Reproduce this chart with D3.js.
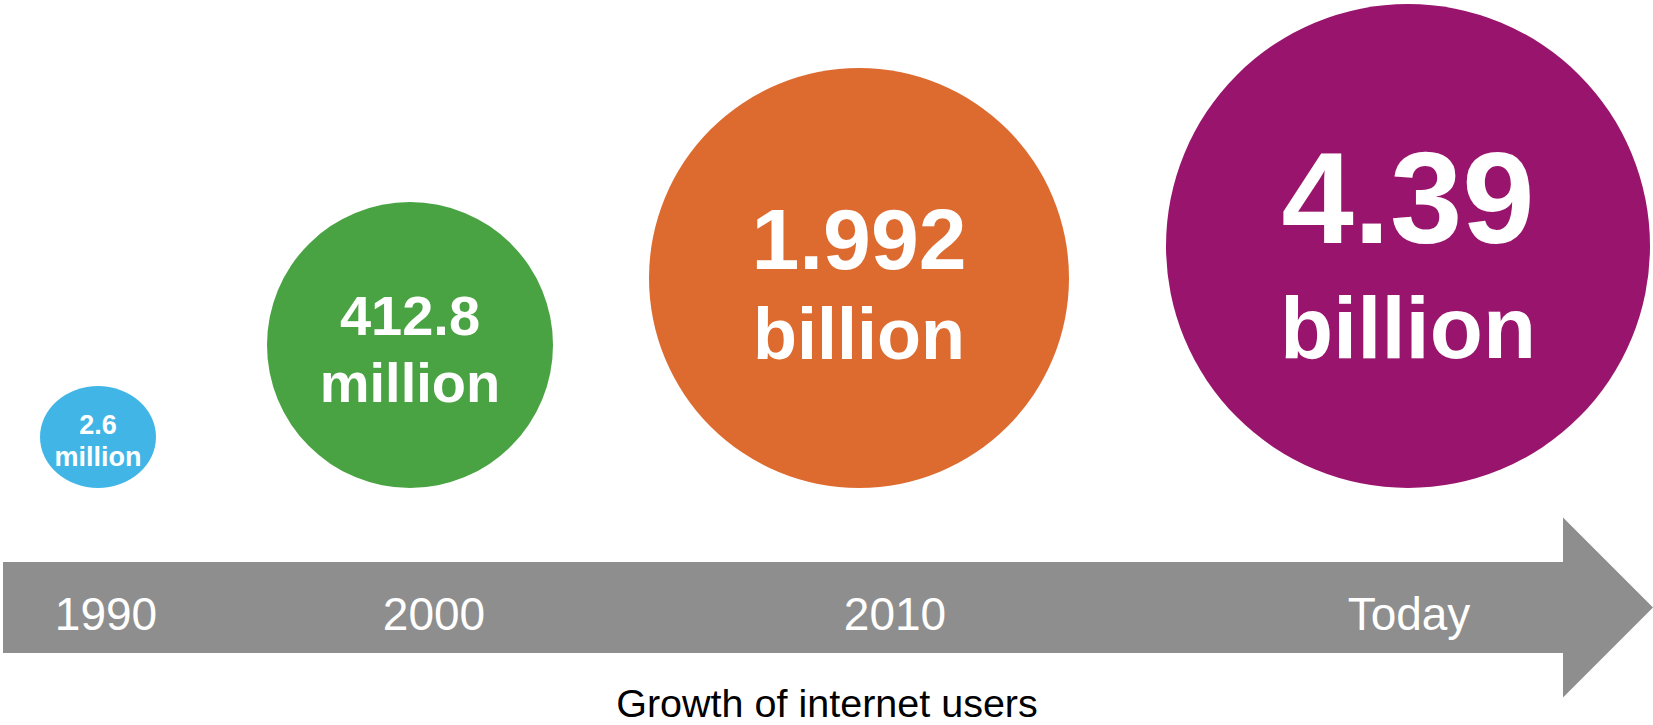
<!DOCTYPE html>
<html>
<head>
<meta charset="utf-8">
<script src="https://cdn.jsdelivr.net/npm/d3@7"></script>
<style>
  html, body { margin: 0; padding: 0; background: #fff; }
  svg { display: block; font-family: "Liberation Sans", Arial, sans-serif; }
</style>
</head>
<body>
<div id="container"></div>
<script>
const periods = ["1990", "2000", "2010", "Today"];
const userCounts = ["2.6", "412.8", "1.992", "4.39"];
const userUnits = ["million", "million", "billion", "billion"];
const caption = "Growth of internet users";

const width = 1653;
const height = 725;

const svg = d3.select("#container")
  .append("svg")
  .attr("width", width)
  .attr("height", height);

// layout scales, one entry per period
const cx = d3.scaleOrdinal().domain(periods).range([98, 410, 859, 1408]);
const labelX = d3.scaleOrdinal().domain(periods).range([106, 434, 895, 1409]);
const rx = d3.scaleOrdinal().domain(periods).range([58, 143, 210, 242]);
const ry = d3.scaleOrdinal().domain(periods).range([51, 143, 210, 242]);
const color = d3.scaleOrdinal().domain(periods)
  .range(["#41b6e6", "#4aa343", "#dd6b30", "#99146c"]);
const numSize = d3.scaleOrdinal().domain(periods).range([27, 56, 86, 130]);
const unitSize = d3.scaleOrdinal().domain(periods).range([27, 56, 72, 87]);
const numDy = d3.scaleOrdinal().domain(periods).range([-3, -10, -9, -3]);
const unitDy = d3.scaleOrdinal().domain(periods).range([29, 57, 81, 112]);

const groundY = 488;
const cy = p => groundY - ry(p);

const data = periods.map((p, i) => ({
  period: p,
  count: userCounts[i],
  unit: userUnits[i]
}));

// arrow
const body = { x0: 3, x1: 1563, y0: 562, y1: 653 };
const mid = (body.y0 + body.y1) / 2;
const head = 90;
const arrowPts = [
  [body.x0, body.y0], [body.x1, body.y0], [body.x1, mid - head],
  [body.x1 + head, mid], [body.x1, mid + head], [body.x1, body.y1],
  [body.x0, body.y1]
];
svg.append("path")
  .attr("d", d3.line()(arrowPts) + "Z")
  .attr("fill", "#8e8e8e");

svg.selectAll(".period")
  .data(data)
  .join("text")
  .attr("class", "period")
  .attr("x", d => labelX(d.period))
  .attr("y", 630)
  .attr("text-anchor", "middle")
  .attr("fill", "#fff")
  .attr("font-size", 46)
  .text(d => d.period);

// bubbles
const bubble = svg.selectAll(".bubble")
  .data(data)
  .join("g")
  .attr("class", "bubble");

bubble.append("ellipse")
  .attr("cx", d => cx(d.period))
  .attr("cy", d => cy(d.period))
  .attr("rx", d => rx(d.period))
  .attr("ry", d => ry(d.period))
  .attr("fill", d => color(d.period));

bubble.append("text")
  .attr("x", d => cx(d.period))
  .attr("y", d => cy(d.period) + numDy(d.period))
  .attr("text-anchor", "middle")
  .attr("fill", "#fff")
  .attr("font-weight", "bold")
  .attr("font-size", d => numSize(d.period))
  .text(d => d.count);

bubble.append("text")
  .attr("x", d => cx(d.period))
  .attr("y", d => cy(d.period) + unitDy(d.period))
  .attr("text-anchor", "middle")
  .attr("fill", "#fff")
  .attr("font-weight", "bold")
  .attr("font-size", d => unitSize(d.period))
  .text(d => d.unit);

svg.append("text")
  .attr("x", 827)
  .attr("y", 717)
  .attr("text-anchor", "middle")
  .attr("fill", "#000")
  .attr("font-size", 39.5)
  .text(caption);
</script>
</body>
</html>
